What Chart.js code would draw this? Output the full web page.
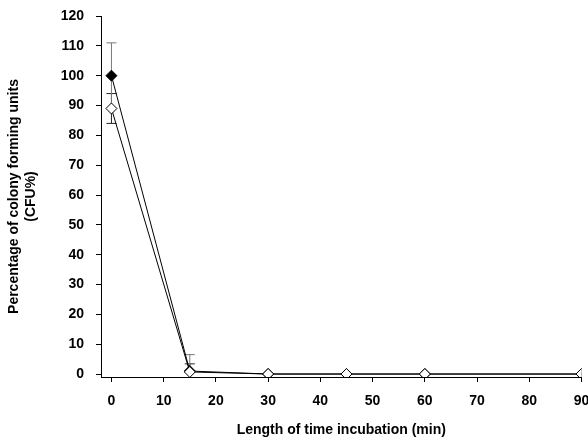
<!DOCTYPE html>
<html>
<head>
<meta charset="utf-8">
<script src="https://cdn.jsdelivr.net/npm/chart.js@4.4.1/dist/chart.umd.min.js"></script>
<style>
  html, body { margin: 0; padding: 0; background: #fff; }
  #wrap { width: 588px; height: 443px; }
</style>
</head>
<body>
<div id="wrap"><canvas id="cfuChart"></canvas></div>
<script>
// sampling times (min)
const times = [0, 15, 30, 45, 60, 90];

// filled diamonds
const filledValues = [100, 1, 0, 0, 0, 0];
const filledErrors = [11, 5.5, 0, 0, 0, 0];

// open diamonds
const openValues = [89, 0.7, 0, 0, 0, 0];
const openErrors = [5, 2.7, 0, 0, 0, 0];

const xTicks = [0, 10, 20, 30, 40, 50, 60, 70, 80, 90];
const yTicks = [0, 10, 20, 30, 40, 50, 60, 70, 80, 90, 100, 110, 120];

const toPoints = (vals) => times.map((t, i) => ({ x: t, y: vals[i] }));

// vertical error bars, cut off at the zero line like the original
const errorBars = {
    id: 'errorBars',
    beforeDatasetsDraw(chart) {
        const ctx = chart.ctx;
        const xScale = chart.scales.x;
        const yScale = chart.scales.y;
        chart.data.datasets.forEach((ds) => {
            if (!ds.errors) return;
            ctx.save();
            ctx.strokeStyle = ds.errorColor;
            ctx.lineWidth = 1;
            ds.data.forEach((p, i) => {
                const e = ds.errors[i];
                if (!e) return;
                const px = xScale.getPixelForValue(p.x);
                const top = yScale.getPixelForValue(p.y + e);
                const low = Math.max(p.y - e, 0);
                const bot = yScale.getPixelForValue(low);
                ctx.beginPath();
                ctx.moveTo(px, top);
                ctx.lineTo(px, bot);
                ctx.moveTo(px - 5, top);
                ctx.lineTo(px + 5, top);
                if (low > 0) {
                    ctx.moveTo(px - 5, bot);
                    ctx.lineTo(px + 5, bot);
                }
                ctx.stroke();
            });
            ctx.restore();
        });
    }
};

const tickFont = { family: "'Liberation Sans', Arial, sans-serif", size: 14, weight: 'bold' };
const titleFont = { family: "'Liberation Sans', Arial, sans-serif", size: 14, weight: 'bold' };

new Chart(document.getElementById('cfuChart').getContext('2d'), {
    type: 'line',
    data: {
        datasets: [{
            label: 'open',
            data: toPoints(openValues),
            errors: openErrors,
            errorColor: '#222',
            order: 0,
            borderColor: '#000',
            borderWidth: 1,
            pointStyle: 'rectRot',
            pointRadius: 5.5,
            pointBackgroundColor: '#fff',
            pointBorderColor: '#000',
            pointBorderWidth: 1,
            tension: 0
        }, {
            label: 'filled',
            data: toPoints(filledValues),
            errors: filledErrors,
            errorColor: '#777',
            order: 1,
            borderColor: '#000',
            borderWidth: 1,
            pointStyle: 'rectRot',
            pointRadius: 5.5,
            pointBackgroundColor: '#000',
            pointBorderColor: '#000',
            pointBorderWidth: 1,
            tension: 0
        }]
    },
    options: {
        responsive: true,
        maintainAspectRatio: false,
        animation: false,
        layout: { padding: { top: 16, right: 5, left: 0, bottom: 0 } },
        plugins: {
            legend: { display: false },
            tooltip: { enabled: false }
        },
        scales: {
            x: {
                type: 'linear',
                min: -2,
                max: 90,
                afterBuildTicks: (axis) => { axis.ticks = xTicks.map(v => ({ value: v })); },
                afterFit: (axis) => {
                    axis.height = 66;
                    axis.paddingLeft = 0;
                    axis.paddingRight = 0;
                },
                grid: { drawOnChartArea: false, drawTicks: true, tickLength: 5, color: '#000' },
                border: { color: '#000', width: 1 },
                ticks: { color: '#000', font: tickFont, padding: 11, maxRotation: 0 },
                title: {
                    display: true,
                    text: 'Length of time incubation (min)',
                    color: '#000',
                    font: titleFont,
                    padding: { top: 12 }
                }
            },
            y: {
                type: 'linear',
                min: -1,
                max: 120,
                afterBuildTicks: (axis) => { axis.ticks = yTicks.map(v => ({ value: v })); },
                afterFit: (axis) => {
                    axis.width = 101;
                    axis.paddingTop = 0;
                    axis.paddingBottom = 0;
                },
                grid: { drawOnChartArea: false, drawTicks: true, tickLength: 5, color: '#000' },
                border: { color: '#000', width: 1 },
                ticks: { color: '#000', font: tickFont, padding: 12 },
                title: {
                    display: true,
                    text: ['Percentage of colony forming units', '(CFU%)'],
                    color: '#000',
                    font: titleFont,
                    padding: { top: 6, bottom: 4 }
                }
            }
        }
    },
    plugins: [errorBars]
});
</script>
</body>
</html>
